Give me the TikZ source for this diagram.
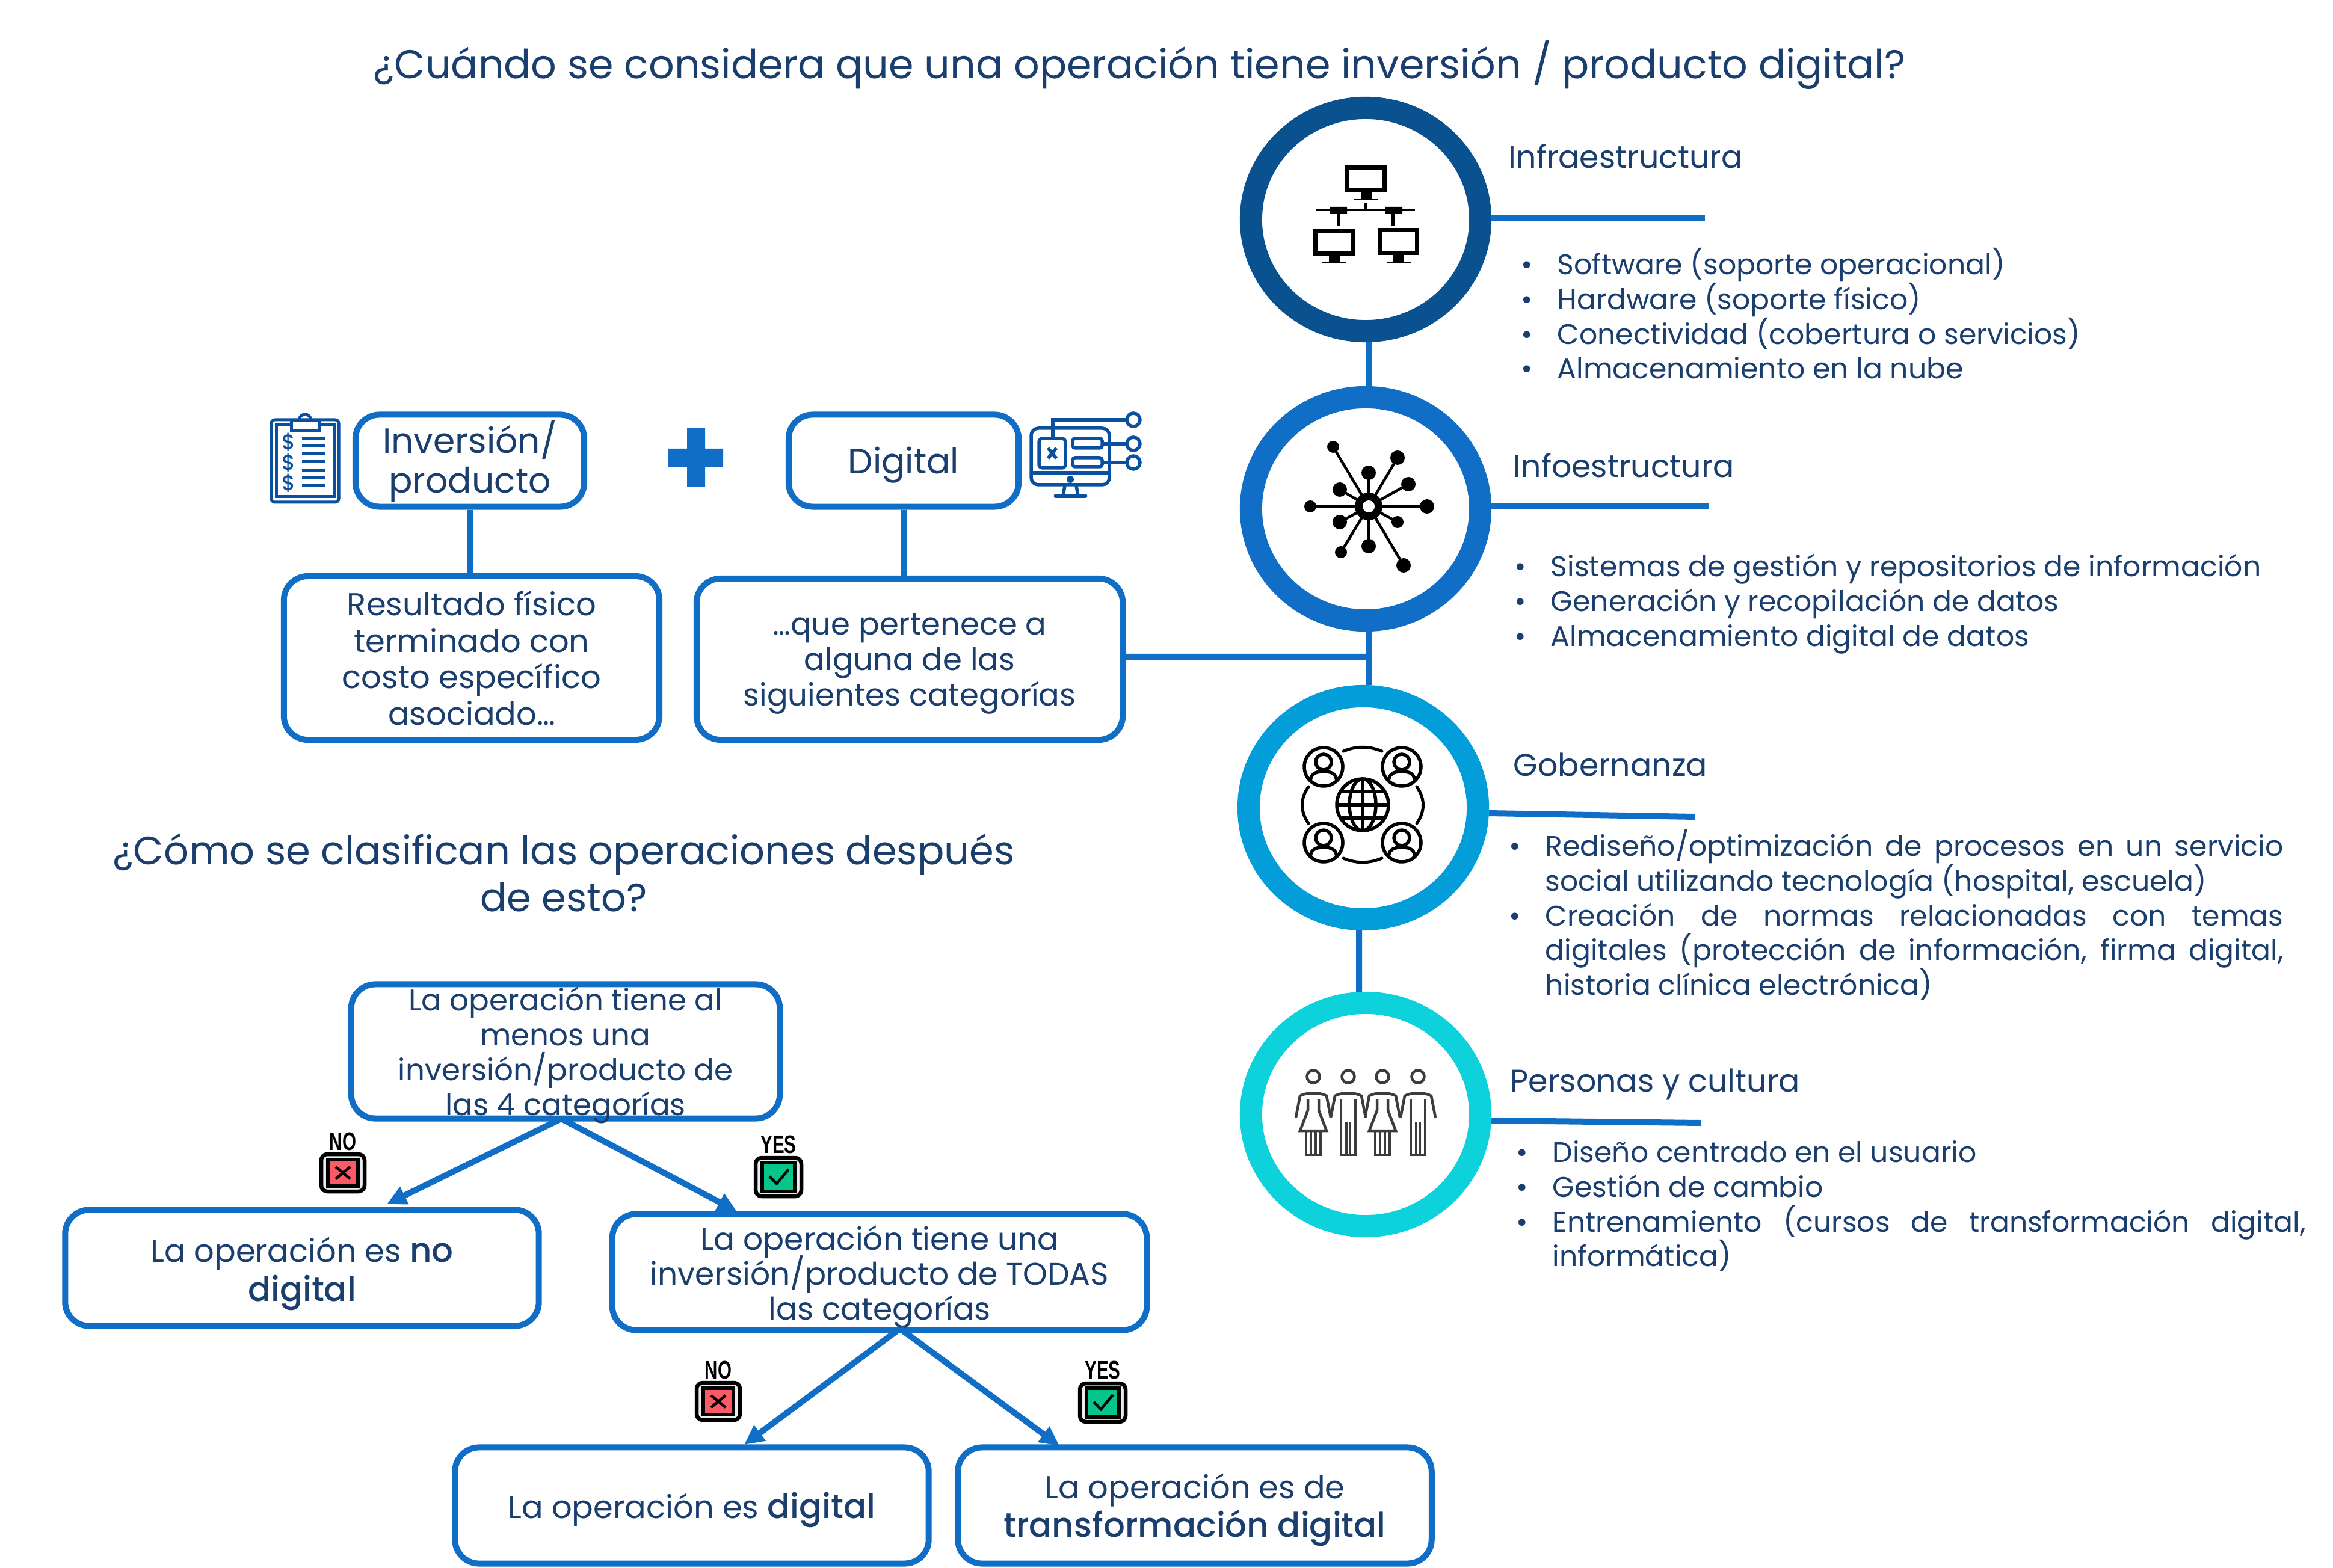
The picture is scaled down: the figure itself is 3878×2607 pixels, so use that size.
\documentclass[tikz,border=0pt]{standalone}
\usepackage{fontspec}
\setmainfont{Poppins}[UprightFont=*,BoldFont=* Medium]
\newfontfamily\badgefont[FakeStretch=0.7]{Liberation Sans}
\usetikzlibrary{arrows.meta}
\usetikzlibrary{shapes.geometric}

\definecolor{linkblue}{HTML}{106EC6}
\definecolor{navytext}{HTML}{1A3E6E}
\definecolor{iconblue}{HTML}{0A50A0}
\definecolor{ringone}{HTML}{0A5190}
\definecolor{ringtwo}{HTML}{106EC6}
\definecolor{ringthree}{HTML}{039DD9}
\definecolor{ringfour}{HTML}{0DD2DB}
\definecolor{peoplegray}{HTML}{3C3C3B}
\definecolor{badgegray}{HTML}{E8EEF0}
\definecolor{badgered}{HTML}{FA5A65}
\definecolor{badgegreen}{HTML}{05C58A}

\newcommand{\tight}{\lineskiplimit=-8pt\relax}
\newcommand{\bul}{\noindent\llap{\makebox[.6cm][l]{\textbullet}}\rule{0pt}{13pt}}
\newcommand{\boldpart}[1]{{\fontsize{16}{18.3}\selectfont\bfseries #1}}
\newcommand{\lowtext}[1]{\rule{0pt}{#1}}

\tikzset{
    ring/.style   = {ellipse,draw,line width=.37cm,fill=white,inner sep=0pt,minimum width=3.81cm,minimum height=3.71cm},
    opbox/.style  = {draw=linkblue,line width=.1cm,rounded corners=.4cm,text=navytext,align=center,inner sep=0pt},
    link/.style   = {linkblue,line width=.1cm},
    linkarrow/.style = {link,arrows = -{Triangle[angle=50:.36cm]}},
    heading/.style = {text=navytext,font=\fontsize{14.85}{18}\selectfont,anchor=west,inner sep=0pt},
    itemlist/.style = {text=navytext,font=\fontsize{13.45}{16.45}\selectfont\tight,anchor=north west,inner sep=0pt,align=justify,execute at begin node={\leftskip=.6cm\relax}},
    badgelabel/.style = {font=\badgefont\bfseries\fontsize{12}{13}\selectfont,inner sep=0pt},
    screen/.pic = {
        \draw[line width=.07cm] (0,0) rectangle (62,38);
        \fill (23,41) rectangle (41,52);
        \draw[line width=.02cm] (12,53) -- (52,53);
    },
    userround/.pic = {
        \draw[line width=.055cm] (0,0) circle (32);
        \draw[line width=.055cm] (0,-8) circle (13);
        \draw[line width=.055cm] (-22,23) .. controls (-20,9) and (-10,8) .. (0,8) .. controls (10,8) and (20,9) .. (22,23);
    },
    lady/.pic = {
        \draw (0,0) circle (10.5);
        \draw (-29,68) -- (-22,32) .. controls (-12,26) and (12,26) .. (22,32) -- (29,68);
        \draw (-9,38) -- (-9,56) -- (-22,90) -- (22,90) -- (9,56) -- (9,38);
        \draw (-12,90) -- (-12,130) -- (12,130) -- (12,90) (-4,90) -- (-4,130) (4,90) -- (4,130);
    },
    gent/.pic = {
        \draw (0,0) circle (10.5);
        \draw (-29,68) -- (-22,32) .. controls (-12,26) and (12,26) .. (22,32) -- (29,68);
        \draw (-12,38) -- (-12,130) -- (-3,130) -- (-3,75) (12,38) -- (12,130) -- (3,130) -- (3,75);
        \draw (-3,130) -- (3,130);
    },
    badgeno/.pic = {
        \draw[line width=.065cm,rounded corners=.1cm,fill=badgegray] (-36,-31) rectangle (36,31);
        \draw[line width=.065cm,fill=badgered] (-25,-22) rectangle (25,22);
        \draw[line width=.045cm] (-12,-10) -- (12,10) (-12,10) -- (12,-10);
    },
    badgeyes/.pic = {
        \draw[line width=.065cm,rounded corners=.1cm,fill=badgegray] (-38,-32) rectangle (38,32);
        \draw[line width=.065cm,fill=badgegreen] (-27,-24) rectangle (27,24);
        \draw[line width=.045cm] (-15,-1) -- (-3,11) -- (17,-13);
    }
}

\begin{document}
\begin{tikzpicture}[x=.01cm,y=-.01cm]

    %\draw [help lines,step=100] (0,0) grid (3878,2607);
    \useasboundingbox (0,0) rectangle (3878,2607);

    % titles
    \path   (1894,108)  node (maintitle) [text=navytext,font=\fontsize{19}{24}\selectfont] {¿Cuándo se considera que una operación tiene inversión / producto digital?}
            (937,1451)  node (subtitle) [text=navytext,font=\fontsize{18.65}{22}\selectfont\tight,align=center] {¿Cómo se clasifican las operaciones después\\de esto?};

    % rings
    \path   (2270,365)  node (infra) [ring,draw=ringone] {}
            (2270,846)  node (infoe) [ring,draw=ringtwo] {}
            (2266,1343) node (gober) [ring,draw=ringthree] {}
            (2270,1853) node (perso) [ring,draw=ringfour] {};

    \coordinate (infraend) at (2834,362);
    \coordinate (infoeend) at (2841,842);
    \coordinate (goberend) at (2817,1358);
    \coordinate (persoend) at (2827,1867);
    \coordinate (trunk) at (2270,1092);

    \draw[link] ([xshift=.05cm]infra.south) -- ([xshift=.05cm]infoe.north);
    \draw[link] ([xshift=.05cm]infoe.south) -- ([xshift=.09cm]gober.north);
    \draw[link] ([xshift=-.07cm]gober.south) -- ([xshift=-.11cm]perso.north);
    \draw[link] (infra.east |- infraend) -- (infraend);
    \draw[link] (infoe.east |- infoeend) -- (infoeend);
    \draw[link] ([yshift=-.09cm]gober.east) -- (goberend);
    \draw[link] ([yshift=-.1cm]perso.east) -- (persoend);

    % headings and lists
    \path   (2507,260)  node (infrahead) [heading] {Infraestructura}
            (2515,774)  node (infoehead) [heading] {Infoestructura}
            (2515,1271) node (goberhead) [heading] {Gobernanza}
            (2510,1803) node (persohead) [heading] {Personas y cultura};

    \node (infralist) at (2528,410) [itemlist,text width=11cm] {\bul Software (soporte operacional)\par\bul Hardware (soporte físico)\par\bul Conectividad (cobertura o servicios)\par\bul Almacenamiento en la nube};
    \node (infoelist) at (2517,912) [itemlist,text width=13cm] {\bul Sistemas de gestión y repositorios de información\par\bul Generación y recopilación de datos\par\bul Almacenamiento digital de datos};
    \node (goberlist) at (2508,1377) [itemlist,text width=12.86cm] {\bul Rediseño/optimización de procesos en un servicio\linebreak social utilizando tecnología (hospital, escuela)\par\bul Creación de normas relacionadas con temas\linebreak digitales (protección de información, firma digital,\linebreak historia clínica electrónica)};
    \node (persolist) at (2520,1886) [itemlist,text width=13.11cm] {\bul Diseño centrado en el usuario\par\bul Gestión de cambio\par\bul Entrenamiento (cursos de transformación digital,\linebreak informática)};

    % upper boxes
    \path   (781,766)   node (inver) [opbox,minimum width=3.8cm,minimum height=1.53cm,font=\fontsize{16.6}{19}\selectfont\tight] {\lowtext{16pt}Inversión/\\producto}
            (1502,766)  node (digit) [opbox,minimum width=3.82cm,minimum height=1.53cm,font=\fontsize{16.6}{19}\selectfont\tight] {\lowtext{16.5pt}Digital}
            (784,1094)  node (resul) [opbox,minimum width=6.24cm,minimum height=2.72cm,font=\fontsize{15}{17.2}\selectfont\tight] {Resultado físico\\terminado con\\costo específico\\asociado…}
            (1512,1096) node (quepe) [opbox,minimum width=7.08cm,minimum height=2.68cm,font=\fontsize{14.6}{16.9}\selectfont\tight] {\lowtext{14.5pt}…que pertenece a\\alguna de las\\siguientes categorías};

    \fill[linkblue] (1142,712) rectangle (1172,809) (1110,746) rectangle (1202,776);

    \draw[link] (inver.south) -- (inver.south |- resul.north);
    \draw[link] (digit.south) -- (digit.south |- quepe.north);
    \draw[link] ([yshift=.04cm]quepe.east) -- (trunk);

    % lower boxes
    \path   (940,1748)  node (atleast) [opbox,inner ysep=-.2cm,minimum width=7.12cm,minimum height=2.23cm,font=\fontsize{14.2}{16.45}\selectfont\tight] {\lowtext{15pt}La operación tiene al\\menos una\\inversión/producto de\\las 4 categorías}
            (502,2108)  node (nodigit) [opbox,minimum width=7.87cm,minimum height=1.93cm,font=\fontsize{15}{18.3}\selectfont\tight] {\lowtext{17.5pt}La operación es \boldpart{no}\\\boldpart{digital}}
            (1462,2115) node (allcats) [opbox,inner ysep=-.1cm,minimum width=8.88cm,minimum height=1.93cm,font=\fontsize{14.75}{16.5}\selectfont\tight] {\lowtext{16pt}La operación tiene una\\inversión/producto de TODAS\\las categorías}
            (1150,2503) node (isdigit) [opbox,minimum width=7.87cm,minimum height=1.93cm,font=\fontsize{15}{18.3}\selectfont\tight] {\lowtext{16.5pt}La operación es \boldpart{digital}}
            (1986,2503) node (istrans) [opbox,minimum width=7.87cm,minimum height=1.93cm,font=\fontsize{15}{18.3}\selectfont\tight] {\lowtext{16pt}La operación es de\\\boldpart{transformación digital}};

    \coordinate (firstfork) at (933,1860);
    \coordinate (secondfork) at (1496,2209);
    \coordinate (nodigittip) at (643,2002);
    \coordinate (allcatstip) at (1225,2014);
    \coordinate (isdigittip) at (1237,2402);
    \coordinate (istranstip) at (1761,2404);

    \draw[linkarrow] (firstfork) -- (nodigittip);
    \draw[linkarrow] (firstfork) -- (allcatstip);
    \draw[linkarrow] (secondfork) -- (isdigittip);
    \draw[linkarrow] (secondfork) -- (istranstip);

    % badges
    \path   (570,1898)  node (nomarka)  [badgelabel] {NO}
            (1294,1903) node (yesmarka) [badgelabel] {YES}
            (1194,2278) node (nomarkb)  [badgelabel] {NO}
            (1833,2278) node (yesmarkb) [badgelabel] {YES};
    \pic at (570,1950)  {badgeno};
    \pic at (1294,1957) {badgeyes};
    \pic at (1194,2330) {badgeno};
    \pic at (1833,2332) {badgeyes};

    % network icon
    \pic at (2239,279) {screen};
    \pic at (2186,384) {screen};
    \pic at (2293,383) {screen};
    \draw[line width=.04cm] (2187,349) -- (2352,349);
    \fill (2210,344) rectangle (2239,356) (2302,344) rectangle (2331,356);
    \draw[line width=.05cm] (2224,356) -- (2224,376) (2315,356) -- (2315,376) (2270,338) -- (2270,349);

    % hub icon
    \foreach \hubx/\huby/\hubr in {2216/743/10,2323/761/12,2275/786/12,2341/805/12,2227/814/12,2178/842/10,2372/842/12,2227/868/12,2323/868/10,2229/918/10,2275/908/12,2333/940/12} {
        \draw[line width=.045cm] (2275,842) -- (\hubx,\huby);
        \fill (\hubx,\huby) circle (\hubr);
    }
    \fill (2275,842) circle (23);
    \fill[white] (2275,842) circle (10);

    % globe icon
    \pic at (2200,1275) {userround};
    \pic at (2330,1275) {userround};
    \pic at (2200,1401) {userround};
    \pic at (2330,1401) {userround};
    \draw[line width=.055cm] (2265,1338) circle (43);
    \draw[line width=.055cm] (2265,1338) ellipse (22 and 43);
    \draw[line width=.055cm] (2265,1295) -- (2265,1381) (2222,1338) -- (2308,1338) (2230,1316) -- (2300,1316) (2230,1360) -- (2300,1360);
    \draw[line width=.05cm,line cap=round] (2233,1249) .. controls (2255,1240) and (2275,1240) .. (2297,1249);
    \draw[line width=.05cm,line cap=round] (2233,1427) .. controls (2255,1436) and (2275,1436) .. (2297,1427);
    \draw[line width=.05cm,line cap=round] (2175,1308) .. controls (2161,1328) and (2161,1349) .. (2175,1369);
    \draw[line width=.05cm,line cap=round] (2355,1308) .. controls (2369,1328) and (2369,1349) .. (2355,1369);

    % people icon
    \begin{scope}[peoplegray,line width=.045cm]
        \pic at (2183,1790) {lady};
        \pic at (2241,1790) {gent};
        \pic at (2298,1790) {lady};
        \pic at (2357,1790) {gent};
    \end{scope}

    % clipboard icon
    \begin{scope}[iconblue,line width=.05cm]
        \draw[rounded corners=.06cm] (451,698) rectangle (563,835);
        \draw (459,706) rectangle (555,826);
        \draw[fill=white] (484,699) rectangle (531,716);
        \draw (497,699) arc (180:360:10);
        \foreach \rowy in {729,741,755,768,782,795,808}
            \draw (502,\rowy) -- (541,\rowy);
    \end{scope}
    \path   (480,735) node (dollara) [text=iconblue,font=\bfseries\fontsize{10}{12}\selectfont,inner sep=0pt] {\$}
            (480,769) node (dollarb) [text=iconblue,font=\bfseries\fontsize{10}{12}\selectfont,inner sep=0pt] {\$}
            (480,803) node (dollarc) [text=iconblue,font=\bfseries\fontsize{10}{12}\selectfont,inner sep=0pt] {\$};

    % screen icon
    \begin{scope}[iconblue,line width=.055cm]
        \draw[rounded corners=.12cm] (1714,712) rectangle (1844,806);
        \draw (1714,786) -- (1844,786);
        \draw (1770,808) -- (1767,824) (1789,808) -- (1792,824);
        \draw[line width=.07cm,line cap=round] (1755,825) -- (1804,825);
        \fill (1779,797) circle (6);
        \draw[fill=white,rounded corners=.06cm] (1727,729) rectangle (1771,778);
        \draw (1742,745) -- (1756,762) (1742,762) -- (1756,745);
        \draw[fill=white,rounded corners=.04cm] (1783,729) rectangle (1832,745);
        \draw[fill=white,rounded corners=.04cm] (1783,761) rectangle (1832,776);
        \draw (1750,728) |- (1873,698);
        \draw (1832,738) -- (1873,738) (1832,769) -- (1873,769);
        \draw (1884,698) circle (11) (1884,738) circle (11) (1884,769) circle (11);
    \end{scope}

\end{tikzpicture}
\end{document}
